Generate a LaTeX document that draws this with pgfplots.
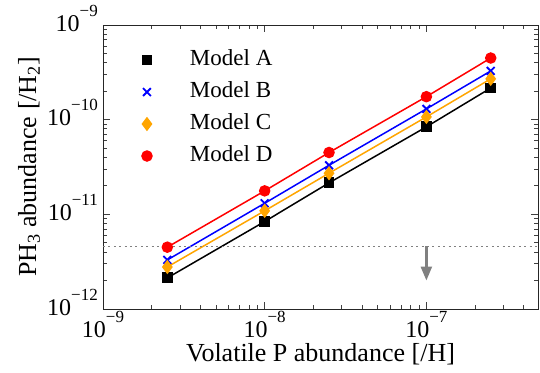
\documentclass[border=0pt]{standalone}
\usepackage{fontspec}
\setmainfont{Liberation Serif}
\usepackage{pgfplots}
\pgfplotsset{compat=1.18}
\usetikzlibrary{arrows.meta}
\definecolor{mplorange}{RGB}{255,165,0}
\newcommand{\tl}[1]{10\raisebox{15pt}{\fontsize{17}{17}\selectfont −#1}}
\begin{document}
\begin{tikzpicture}
\useasboundingbox (-103pt,-63pt) rectangle (437pt,309pt);
\begin{axis}[
  at={(0pt,0pt)}, anchor=south west,
  scale only axis, width=435pt, height=284pt,
  xmode=log, ymode=log,
  xmin=1e-9, xmax=4.9e-7, ymin=1e-12, ymax=1e-9,
  xtick={1e-9,1e-8,1e-7},
  xticklabels={\tl{9},\tl{8},\tl{7}},
  ytick={1e-12,1e-11,1e-10,1e-9},
  yticklabels={\tl{12},\tl{11},\tl{10},\tl{9}},
  minor xtick={2e-9,3e-9,4e-9,5e-9,6e-9,7e-9,8e-9,9e-9,2e-8,3e-8,4e-8,5e-8,6e-8,7e-8,8e-8,9e-8,2e-7,3e-7,4e-7},
  minor ytick={2e-12,3e-12,4e-12,5e-12,6e-12,7e-12,8e-12,9e-12,2e-11,3e-11,4e-11,5e-11,6e-11,7e-11,8e-11,9e-11,2e-10,3e-10,4e-10,5e-10,6e-10,7e-10,8e-10,9e-10},
  tick align=inside,
  major tick length=7pt, minor tick length=4pt,
  tick style={line width=0.8pt, color=black!75},
  axis line style={line width=0.9pt, color=black!85},
  xticklabel style={font=\fontsize{24}{28}\selectfont, anchor=base, yshift=-28pt, inner sep=0pt},
  yticklabel style={font=\fontsize{24}{28}\selectfont, anchor=base east, yshift=-6pt, xshift=-5pt, inner sep=0pt},
  xlabel={Volatile P abundance [/H]},
  ylabel={PH\textsubscript{3} abundance [/H\textsubscript{2}]},
  xlabel style={font=\fontsize{26}{30}\selectfont, at={(axis description cs:0.5,0)}, anchor=base, yshift=-52pt, inner sep=0pt},
  ylabel style={font=\fontsize{26}{30}\selectfont, inner sep=0pt},
  ylabel shift=7pt,
  legend image code/.code={\draw[#1] plot coordinates {(0pt,0pt)};},
  legend cell align=left,
  legend style={draw=none, fill=none, at={(axis description cs:0,1)}, anchor=north west,
    xshift=39pt, yshift=-24.5pt, inner sep=0pt, outer sep=0pt,
    row sep=11pt, column sep=38pt, font=\fontsize{23}{27}\selectfont,
    nodes={inner sep=0pt, text height=16pt, text depth=5pt}},
]
\addplot[black, line width=1.5pt, mark=square*, mark size=4.7pt] coordinates {(2.5e-9,2.13e-12) (1e-8,8.4e-12) (2.5e-8,2.15e-11) (1e-7,8.4e-11) (2.5e-7,2.16e-10)};
\addplot[blue, line width=1.5pt, mark=x, mark size=5.5pt, mark options={line width=1.8pt}] coordinates {(2.5e-9,3.3e-12) (1e-8,1.31e-11) (2.5e-8,3.3e-11) (1e-7,1.3e-10) (2.5e-7,3.27e-10)};
\addplot[mplorange, line width=1.5pt, mark=diamond*, mark size=6pt] coordinates {(2.5e-9,2.78e-12) (1e-8,1.09e-11) (2.5e-8,2.72e-11) (1e-7,1.07e-10) (2.5e-7,2.7e-10)};
\addplot[red, line width=1.5pt, mark=*, mark size=5pt] coordinates {(2.5e-9,4.5e-12) (1e-8,1.77e-11) (2.5e-8,4.5e-11) (1e-7,1.75e-10) (2.5e-7,4.48e-10)};
\legend{Model A, Model B, Model C, Model D}
\addplot[gray, line width=1.3pt, dash pattern=on 2pt off 3.4pt, forget plot] coordinates {(1e-9,4.6e-12) (4.9e-7,4.6e-12)};
\addplot[gray, line width=2.5pt, -{Triangle[width=11pt,length=14pt]}, forget plot] coordinates {(1e-7,4.6e-12) (1e-7,2.0e-12)};
\end{axis}
\end{tikzpicture}
\end{document}
